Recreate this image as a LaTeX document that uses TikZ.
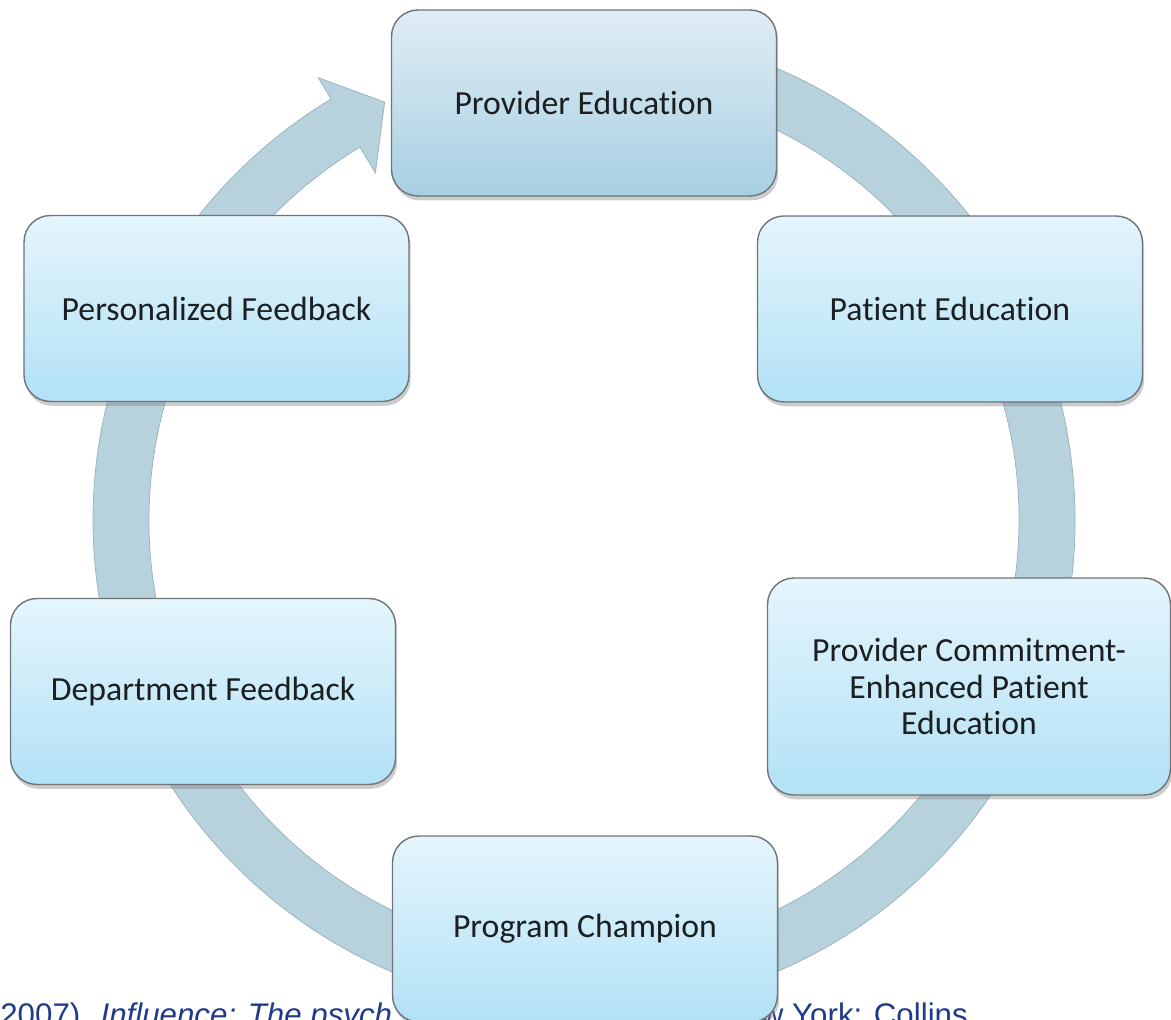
\documentclass[tikz,border=0pt]{standalone}
\usepackage{fontspec}
\setmainfont[Ligatures=NoCommon]{Carlito}
\newfontfamily\citefont{Liberation Sans}
\usetikzlibrary{shadows}
\definecolor{ringblue}{RGB}{183,209,221}
\definecolor{ringedge}{RGB}{150,176,190}
\definecolor{boxtop}{RGB}{229,245,252}
\definecolor{boxbot}{RGB}{178,225,246}
\definecolor{topboxtop}{RGB}{224,237,244}
\definecolor{topboxbot}{RGB}{168,207,226}
\definecolor{boxline}{RGB}{110,116,120}
\definecolor{boxtext}{RGB}{28,30,32}
\definecolor{citeblue}{RGB}{31,58,138}

\begin{document}
\begin{tikzpicture}
			[x=0.02cm, y=0.02cm, align=center,
			block/.style ={rectangle, draw=boxline, line width=0.8pt, top color=boxtop, bottom color=boxbot, rounded corners=15pt, minimum width=7.7cm, minimum height=3.72cm, inner sep=0pt, text=boxtext, font=\fontsize{19.2}{20.7}\selectfont, drop shadow={shadow xshift=1pt, shadow yshift=-2.5pt, opacity=0.4}},
			topblock/.style ={block, top color=topboxtop, bottom color=topboxbot},
			ring/.style ={fill=ringblue, draw=ringedge, line width=0.4pt},
			cite/.style ={inner sep=0pt, text=citeblue, font=\citefont\fontsize{17.8}{20}\selectfont}];
			\useasboundingbox (0,0) rectangle (1171,1020);
			\clip (0,0) rectangle (1171,1020);
			\begin{scope}[shift={(584,500)}]
				\filldraw[ring] (100:491) arc[start angle=100, end angle=-239, radius=491]
					-- (-239:516) -- (-244.5:463) -- (-239:405) -- (-239:435)
					arc[start angle=-239, end angle=100, radius=435] -- cycle;
			\end{scope}
			\node [cite, anchor=base west] (citeleft) at (0,-5.5) {2007). \textit{Influence: The psych}};
			\node [cite, anchor=base west] (citeright) at (760.6,-5.5) {w York: Collins};
			\node [topblock] (provideredu) at (584,917) {Provider Education};
			\node [block] (patientedu) at (950,711) {Patient Education};
			\node [block, minimum width=8.06cm, minimum height=4.34cm] (commitment) at (969,333.5) {Provider Commitment-\\Enhanced Patient\\Education};
			\node [block] (champion) at (585,91) {Program Champion};
			\node [block] (deptfeedback) at (203,328.5) {Department Feedback};
			\node [block] (persfeedback) at (216.5,711.5) {Personalized Feedback};
		\end{tikzpicture}
\end{document}
